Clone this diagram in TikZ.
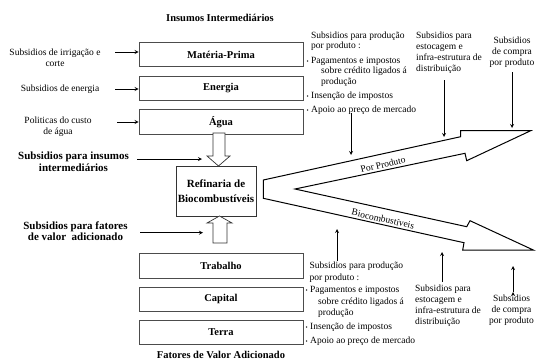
\documentclass[tikz,border=0pt]{standalone}
\usepackage{fontspec}
\setmainfont{Liberation Serif}
\usetikzlibrary{arrows,positioning}
\newcommand{\marcador}{{\fontsize{6}{6}\selectfont\textbullet}}
\tikzset{
	caixa/.style={
		rectangle,
		draw=black!70,
		line width=0.7pt,
		minimum width=164pt,
		minimum height=24.5pt,
		font=\bfseries\fontsize{10.5}{12}\selectfont
	},
	refinaria/.style={
		rectangle,
		draw=black!80,
		line width=0.7pt,
		minimum width=80pt,
		minimum height=50pt,
		inner sep=0pt,
		align=center,
		font=\bfseries\fontsize{11}{15}\selectfont
	},
	nota/.style={
		inner sep=0pt,
		align=center,
		font=\fontsize{9.5}{11}\selectfont
	},
	notaesq/.style={
		nota,
		align=left
	},
	destaque/.style={
		inner sep=0pt,
		align=center,
		font=\bfseries\fontsize{11}{11.5}\selectfont
	},
	titulo/.style={
		inner sep=0pt,
		font=\bfseries\fontsize{10.5}{12}\selectfont
	},
	seta/.style={
		draw=black,
		line width=0.8pt,
		->,
		>=stealth
	},
	vazada/.style={
		draw=black!80,
		line width=0.7pt,
		fill=white
	},
	fluxo/.style={
		draw=black,
		line width=1pt,
		line join=miter
	},
}

\begin{document}
\begin{tikzpicture}[x=1pt,y=-1pt,node distance=8pt]
				\useasboundingbox (0,0) rectangle (540,362);
				\node [titulo] (insumos) at (220,18) {Insumos Intermediários};
				\node [caixa] (materia) at (221,54.5) {Matéria-Prima};
				\node [caixa] (energia) [below=8.5pt of materia] {Energia};
				\node [caixa] (agua) [below=8.5pt of energia] {Água};
				\node [refinaria] (refinaria) at (216,191) {Refinaria de\\Biocombustíveis};
				\node [caixa] (trabalho) at (221,266) {Trabalho};
				\node [caixa] (capital) [below=8pt of trabalho] {Capital};
				\node [caixa] (terra) [below=8pt of capital] {Terra};
				\node [titulo] (fatores) at (221,355) {Fatores de Valor Adicionado};
				
				\draw[vazada] (213,133) -- (213,156) -- (207,156) -- (218.5,166) -- (230,156) -- (225,156) -- (225,133) -- cycle;
				\draw[vazada] (213,243) -- (213,223) -- (207,223) -- (219.5,216) -- (232,223) -- (227,223) -- (227,243) -- cycle;
				
				\node [nota] (irrigacao) at (55,58) {Subsidios de irrigação e\\corte};
				\node [nota] (subenergia) at (60,89) {Subsidios de energia};
				\node [nota] (custoagua) at (58,126.5) {Politicas do custo\\de água};
				\node [destaque] (subinsumos) at (73.5,161.5) {Subsidios para insumos\\intermediários};
				\node [destaque] (subfatores) at (75.5,231) {Subsidios para fatores\\de valor\ \ adicionado};
				\coordinate (irr) at (115,52);
				\coordinate (ene) at (115,89);
				\coordinate (agu) at (117,122);
				\coordinate (ins) at (137,159);
				\coordinate (insfim) at (202,159);
				\coordinate (fat) at (140,232.7);
				\coordinate (fatfim) at (203,232.7);
				\draw[seta] (irr) -- (irr -| materia.west);
				\draw[seta] (ene) -- (ene -| energia.west);
				\draw[seta] (agu) -- (agu -| agua.west);
				\draw[seta] (ins) -- (insfim);
				\draw[seta] (fat) -- (fatfim);
				
				\draw[fluxo] (263.3,180) -- (460.7,136.7) -- (460.7,130.7) -- (530.7,130.7) -- (466.7,160.7) -- (465,153.3)
					-- (295,189) -- (466.7,226.7) -- (470,220.7) -- (533.3,250) -- (462.7,250) -- (464,242.7) -- (263.3,198.3) -- cycle;
				\node [nota, rotate=13] (porproduto) at (383,164.5) {Por Produto};
				\node [nota, rotate=-13] (biocomb) at (383,219) {Biocombustíveis};
				
				\node [notaesq, anchor=north west, font=\fontsize{9.5}{10.5}\selectfont] (prodcima) at (306.5,31.5) {%
					\hspace*{4.5pt}Subsidios para produção\\
					\hspace*{4.5pt}por produto :\\[4pt]
					\marcador\ Pagamentos e impostos\\
					\hspace*{14.5pt}sobre crédito ligados á\\
					\hspace*{14.5pt}produção\\[4pt]
					\marcador\ Insenção de impostos\\[3.5pt]
					\marcador\ Apoio ao preço de mercado};
				\node [notaesq, anchor=north west] (estoqcima) at (416,31.5) {Subsidios para\\estocagem e\\infra-estrutura de\\distribuição};
				\node [nota, anchor=north] (compracima) at (512,36.8) {Subsidios\\de compra\\por produto};
				\node [notaesq, anchor=north west, font=\fontsize{9.5}{11.5}\selectfont] (prodbaixo) at (305.5,261.8) {%
					\hspace*{4pt}Subsidios para produção\\
					\hspace*{4pt}por produto :\\[1pt]
					\marcador\ Pagamentos e impostos\\
					\hspace*{12.5pt}sobre crédito ligados á\\
					\hspace*{12.5pt}produção\\[2.5pt]
					\marcador\ Insenção de impostos\\[2.5pt]
					\marcador\ Apoio ao preço de mercado};
				\node [notaesq, anchor=north west] (estoqbaixo) at (415,284.8) {Subsidios para\\estocagem e\\infra-estrutura de\\distribuição};
				\node [nota, anchor=north] (comprabaixo) at (511.5,294.8) {Subsidios\\de compra\\por produto};
				
				\coordinate (pc1) at (351,113);
				\coordinate (pc2) at (351,155);
				\coordinate (ec1) at (444,80);
				\coordinate (ec2) at (444,137);
				\coordinate (cc1) at (512,72);
				\coordinate (cc2) at (512,128);
				\coordinate (pb1) at (337,261);
				\coordinate (pb2) at (337,229);
				\coordinate (eb1) at (442,282);
				\coordinate (eb2) at (442,252);
				\coordinate (cb1) at (513,292);
				\coordinate (cb2) at (513,266);
				\path[seta]
				(pc1) edge (pc2)
				(ec1) edge (ec2)
				(cc1) edge (cc2)
				(pb1) edge (pb2)
				(eb1) edge (eb2)
				(cb1) edge (cb2)
				;
\end{tikzpicture}
\end{document}
